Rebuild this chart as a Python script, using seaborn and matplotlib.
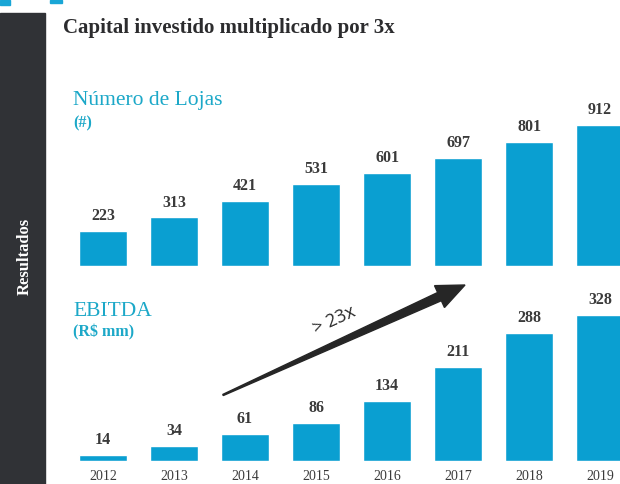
import matplotlib
matplotlib.use('Agg')
import matplotlib.pyplot as plt
import seaborn as sns
import pandas as pd
import numpy as np
from matplotlib.patches import Rectangle, Polygon

# dados
anos = ['2012', '2013', '2014', '2015', '2016', '2017', '2018', '2019']
lojas = [223, 313, 421, 531, 601, 697, 801, 912]
ebitda = [14, 34, 61, 86, 134, 211, 288, 328]

sns.set_style('white')
plt.rcParams['font.family'] = ['Liberation Serif', 'DejaVu Serif']

AZUL = '#0a9fd1'
CIANO = '#1ca8c8'
ESCURO = '#2c2c2e'
W, H = 620, 484

fig = plt.figure(figsize=(W / 100, H / 100), dpi=100)


def caixa(x0, y0, x1, y1):
    # pixels (origem no topo) -> fração da figura
    return [x0 / W, 1 - y1 / H, (x1 - x0) / W, (y1 - y0) / H]


def fig_xy(x, y):
    return (x / W, 1 - y / H)


# faixa lateral escura
fig.patches.append(Rectangle(fig_xy(0, 484), 45 / W, 471 / H, transform=fig.transFigure,
                             color='#303236', zorder=0))
fig.patches.append(Rectangle(fig_xy(0, 5), 10 / W, 5 / H, transform=fig.transFigure,
                             color='#19a6d6', zorder=0))
fig.patches.append(Rectangle(fig_xy(50, 3), 12 / W, 3 / H, transform=fig.transFigure,
                             color='#19a6d6', zorder=0))
fig.text(*fig_xy(25, 256), 'Resultados', rotation=90, color='white', fontsize=12,
         fontweight='bold', ha='center', va='center')

fig.text(*fig_xy(63, 28), 'Capital investido multiplicado por 3x', fontsize=15,
         fontweight='bold', color=ESCURO, ha='left', va='center')


def painel(rect, valores, ymax, titulo, unidade, y_tit, y_uni, mostrar_anos):
    ax = fig.add_axes(rect)
    df = pd.DataFrame({'ano': anos, 'valor': valores})
    sns.barplot(data=df, x='ano', y='valor', color=AZUL, width=0.67, saturation=1, ax=ax)
    ax.set_xlim(-0.606, 7.28)
    ax.set_ylim(0, ymax)
    for i, v in enumerate(valores):
        ax.annotate(str(v), (i, v), xytext=(0, 5), textcoords='offset points',
                    ha='center', va='bottom', fontsize=11.5, fontweight='bold', color='#3a3a3a')
    if mostrar_anos:
        for i, a in enumerate(anos):
            ax.annotate(a, (i, 0), xytext=(0, -15 * 0.72), textcoords='offset points',
                        ha='center', va='center', fontsize=10, color='#3a3a3a',
                        annotation_clip=False)
    ax.axis('off')
    fig.text(*fig_xy(73, y_tit), titulo, fontsize=15.5, color=CIANO, ha='left', va='center')
    fig.text(*fig_xy(73, y_uni), unidade, fontsize=11.5, fontweight='bold', color=CIANO,
             ha='left', va='center')
    return ax


ax1 = painel(caixa(60, 90, 620, 266), lojas, 176 / 0.155, 'Número de Lojas', '(#)', 101, 123, False)
ax2 = painel(caixa(60, 290, 620, 461), ebitda, 171 / 0.445, 'EBITDA', '(R$ mm)', 312, 332, True)

# seta de crescimento
cauda = np.array([223.0, 395.0])
ponta = np.array([465.0, 285.0])
d = ponta - cauda
u = d / np.linalg.norm(d)
n = np.array([u[1], -u[0]])
base = ponta - 28 * u
pts = [cauda + 0.6 * n, base + 4.5 * n, base + 12 * n, ponta,
       base - 12 * n, base - 4.5 * n, cauda - 0.6 * n]
pts = [fig_xy(p[0], p[1]) for p in pts]
fig.patches.append(Polygon(pts, closed=True, transform=fig.transFigure, color='#262626', zorder=3))
ang = np.degrees(np.arctan2(110, 242))
fig.text(*fig_xy(334, 320), '> 23x', rotation=ang, fontsize=13, color='#2a2a2a',
         family=['Open Sans', 'DejaVu Sans'], ha='center', va='center', rotation_mode='anchor')

fig.savefig('out.png', dpi=100)
